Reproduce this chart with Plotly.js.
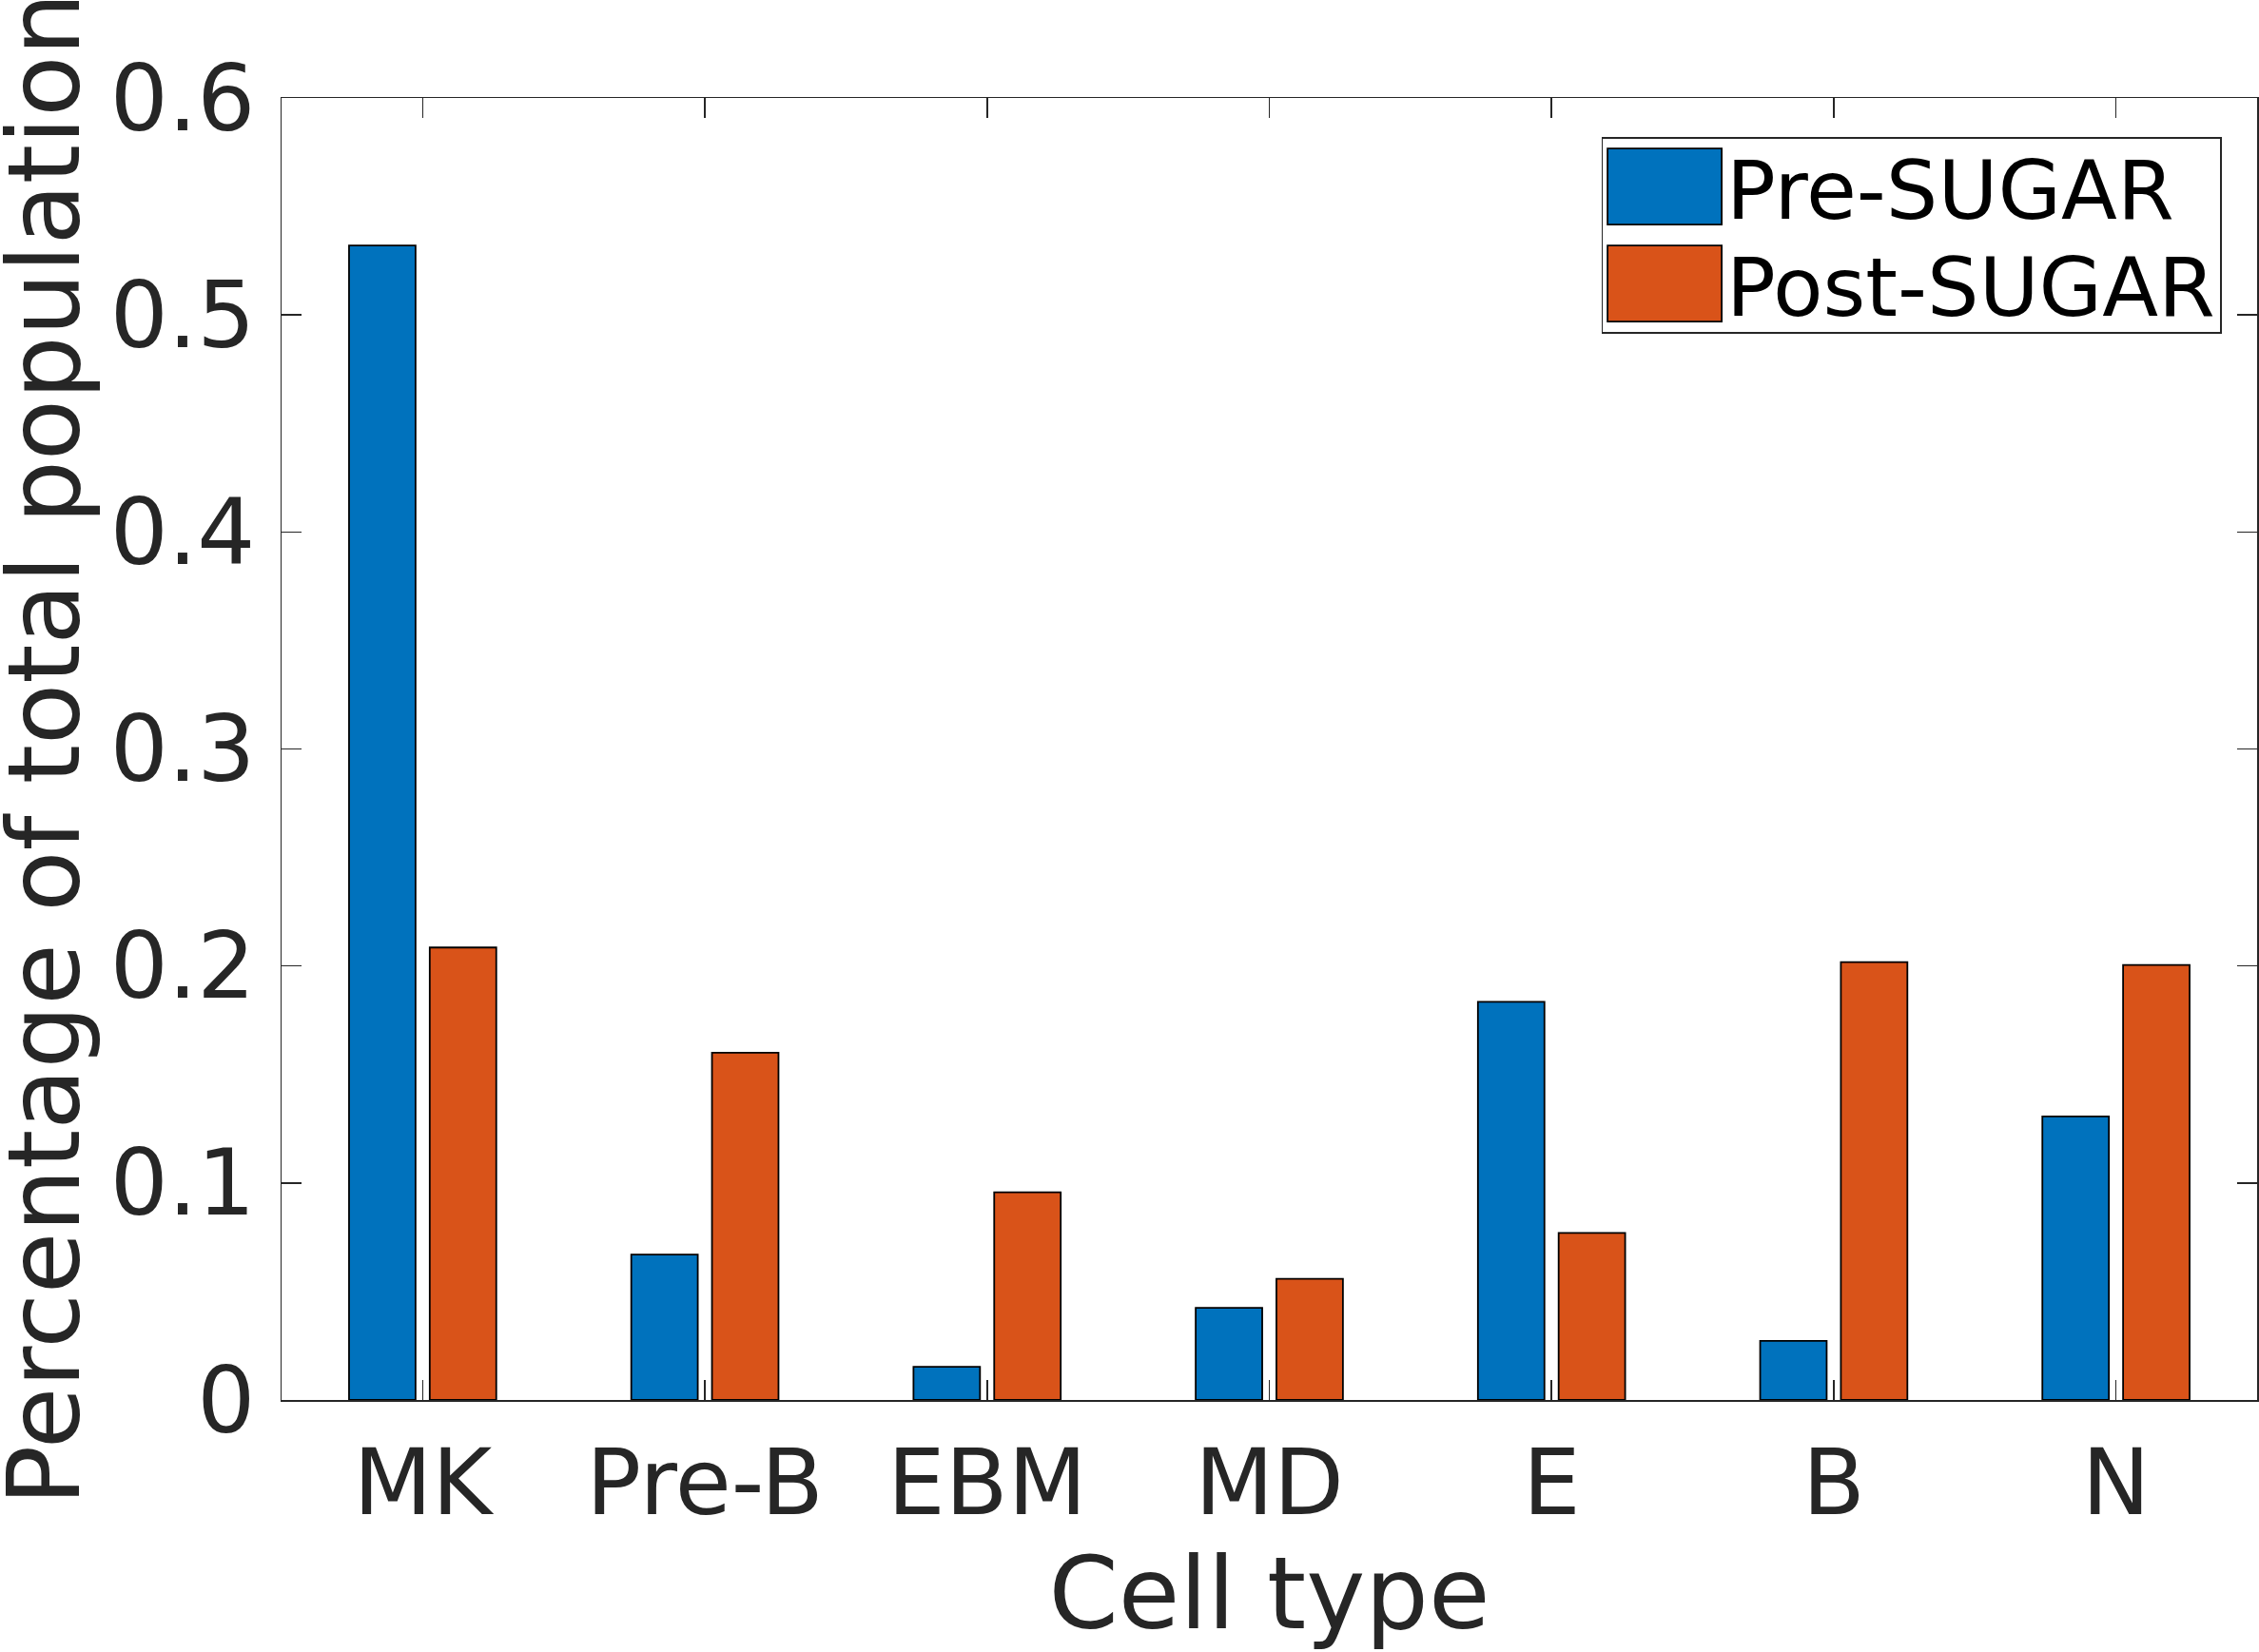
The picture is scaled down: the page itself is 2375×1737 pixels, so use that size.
<!DOCTYPE html>
<html>
<head>
<meta charset="utf-8">
<script src="https://cdn.plot.ly/plotly-3.0.1.min.js"></script>
<style>
  html, body { margin: 0; padding: 0; background: #fff; }
  #chart { width: 2375px; height: 1737px; }
</style>
</head>
<body>
<div id="chart"></div>
<script>
// values
const cellTypes = ['MK', 'Pre-B', 'EBM', 'MD', 'E', 'B', 'N'];
const preSugar = [0.532, 0.067, 0.0153, 0.0425, 0.1835, 0.0272, 0.1307];
const postSugar = [0.2085, 0.160, 0.0957, 0.0558, 0.077, 0.2018, 0.2005];
const yTicks = [0, 0.1, 0.2, 0.3, 0.4, 0.5, 0.6];

const blue = '#0072BD';
const orange = '#D95319';
const ink = '#262626';
const font = 'DejaVu Sans, sans-serif';

const data = [
  {
    x: cellTypes,
    y: preSugar,
    name: 'Pre-SUGAR',
    type: 'bar',
    marker: { color: blue, line: { color: '#000', width: 1.8 } },
  },
  {
    x: cellTypes,
    y: postSugar,
    name: 'Post-SUGAR',
    type: 'bar',
    marker: { color: orange, line: { color: '#000', width: 1.8 } },
  },
];

const axisCommon = {
  showline: true,
  linecolor: ink,
  linewidth: 1.5,
  mirror: 'ticks',
  ticks: 'inside',
  ticklen: 21,
  tickwidth: 1.5,
  tickcolor: ink,
  showgrid: false,
  zeroline: false,
  tickfont: { family: font, size: 96, color: ink },
};

const layout = {
  width: 2375,
  height: 1737,
  margin: { l: 296, r: 2, t: 103, b: 265 },
  paper_bgcolor: '#fff',
  plot_bgcolor: '#fff',
  barmode: 'group',
  bargap: 0.428,
  bargroupgap: 0.176,
  font: { family: font, color: ink },
  xaxis: Object.assign({}, axisCommon, {
    type: 'category',
    range: [-0.5, 6.5],
    ticklabelstandoff: 3,
    title: { text: 'Cell type', font: { family: font, size: 105, color: ink }, standoff: 20 },
  }),
  yaxis: Object.assign({}, axisCommon, {
    range: [0, 0.6],
    tickvals: yTicks,
    ticklabelstandoff: 7,
    title: { text: 'Percentage of total population', font: { family: font, size: 105, color: ink }, standoff: 35 },
  }),
  showlegend: true,
  legend: {
    x: 0.982,
    xanchor: 'right',
    y: 0.97,
    yanchor: 'top',
    bgcolor: '#fff',
    bordercolor: ink,
    borderwidth: 1.5,
    itemwidth: 120,
    font: { family: font, size: 86, color: '#000' },
  },
};

Plotly.newPlot('chart', data, layout, { staticPlot: true }).then(() => {
  // MATLAB style legend: big swatches, tighter rows
  document.querySelectorAll('.legendpoints path').forEach((p) => {
    p.setAttribute('d', 'M60,40H-60V-40H60Z');
  });
  document.querySelectorAll('.legend .traces').forEach((g, i) => {
    const m = /translate\(([-\d.]+)[ ,]+([-\d.]+)\)/.exec(g.getAttribute('transform'));
    if (m) g.setAttribute('transform', 'translate(' + m[1] + ',' + (52 + i * 102) + ')');
  });
  const bg = document.querySelector('.legend .bg');
  if (bg) bg.setAttribute('height', 205);

  // y title sits a bit closer to the page edge in the original
  const yt = document.querySelector('.ytitle');
  if (yt) {
    const tx = parseFloat(yt.getAttribute('x')) - 14;
    const ty = parseFloat(yt.getAttribute('y'));
    yt.setAttribute('x', tx);
    yt.setAttribute('transform', 'rotate(-90,' + tx + ',' + ty + ')');
  }
});
</script>
</body>
</html>
